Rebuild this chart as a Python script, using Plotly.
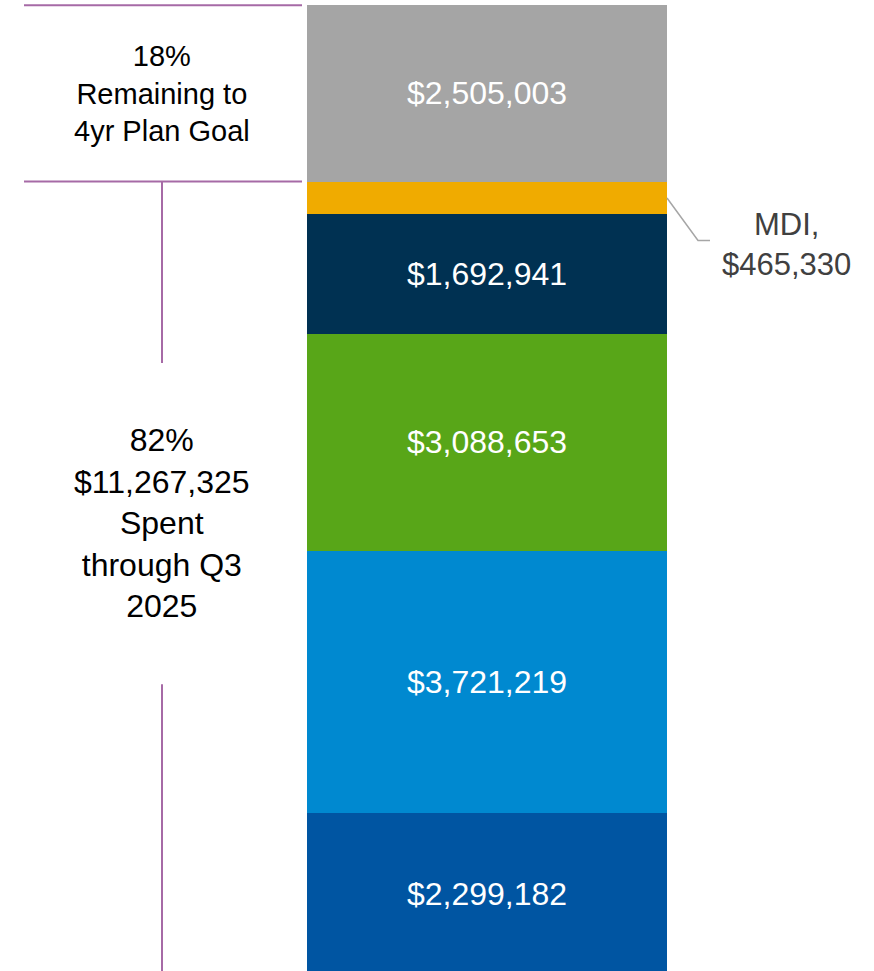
"""Stacked single-bar chart: 4yr plan spend vs. remaining budget."""

import plotly.graph_objects as go

# segment data, bottom to top
segments = ["Segment 1", "Segment 2", "Segment 3", "Segment 4", "MDI", "Remaining"]
amounts = [2299182, 3721219, 3088653, 1692941, 465330, 2505003]
colors = ["#0055A2", "#0089D0", "#58A618", "#003152", "#F0AB00", "#A5A5A5"]
show_label = [True, True, True, True, False, True]

spent = sum(amounts[:-1])
total = sum(amounts)
spent_pct = round(100 * spent / total)
remaining_pct = 100 - spent_pct

FONT = "Liberation Sans"
LINE_PURPLE = "#A66AA6"
BAR_X = 487      # x axis is laid out in pixel units (0..874)
BAR_W = 360
LEFT_X = 162

fig = go.Figure()
for name, amt, col, lab in zip(segments, amounts, colors, show_label):
    fig.add_trace(go.Bar(
        x=[BAR_X], y=[amt], name=name, width=BAR_W,
        marker=dict(color=col, line=dict(width=0)),
        text=[f"${amt:,}" if lab else ""],
        textposition="inside", insidetextanchor="middle",
        constraintext="none",
        textfont=dict(family=FONT, size=32, color="white"),
        hovertemplate=f"{name}: $%{{y:,}}<extra></extra>",
    ))

# bracket lines on the left
line = dict(color=LINE_PURPLE, width=2)
fig.add_shape(type="line", x0=24, x1=302, y0=total, y1=total, line=line)
fig.add_shape(type="line", x0=24, x1=302, y0=spent, y1=spent, line=line)
fig.add_shape(type="line", x0=LEFT_X, x1=LEFT_X, y0=spent, y1=8.69e6, line=line)
fig.add_shape(type="line", x0=LEFT_X, x1=LEFT_X, y0=4.13e6, y1=0, line=line)

# leader line for the MDI slice
mdi_mid = spent - amounts[4] / 2
fig.add_trace(go.Scatter(
    x=[BAR_X + BAR_W / 2, 698, 710], y=[mdi_mid, 10.43e6, 10.43e6],
    mode="lines", line=dict(color="#A6A6A6", width=1.5),
    hoverinfo="skip", showlegend=False,
))

fig.add_annotation(
    x=LEFT_X, y=(spent + total) / 2,
    text=f"{remaining_pct}%<br>Remaining to<br>4yr Plan Goal",
    showarrow=False, font=dict(family=FONT, size=29, color="black"),
)
fig.add_annotation(
    x=LEFT_X, y=6.42e6,
    text=f"{spent_pct}%<br>${spent:,}<br>Spent<br>through Q3<br>2025",
    showarrow=False, font=dict(family=FONT, size=32, color="black"),
)
fig.add_annotation(
    x=786, y=10.37e6,
    text=f"MDI,<br>${amounts[4]:,}",
    showarrow=False, font=dict(family=FONT, size=31, color="#404040"),
)

fig.update_layout(
    barmode="stack",
    width=874, height=971,
    margin=dict(l=0, r=0, t=0, b=0),
    showlegend=False,
    paper_bgcolor="white", plot_bgcolor="white",
    xaxis=dict(range=[0, 874], visible=False, fixedrange=True),
    yaxis=dict(range=[56800, 13846180], visible=False, fixedrange=True),
)

# drop the default body margin so the figure sits flush with the window
fig.write_html(
    "out.html",
    config={"displayModeBar": False},
    post_script="document.body.style.margin='0';",
)
